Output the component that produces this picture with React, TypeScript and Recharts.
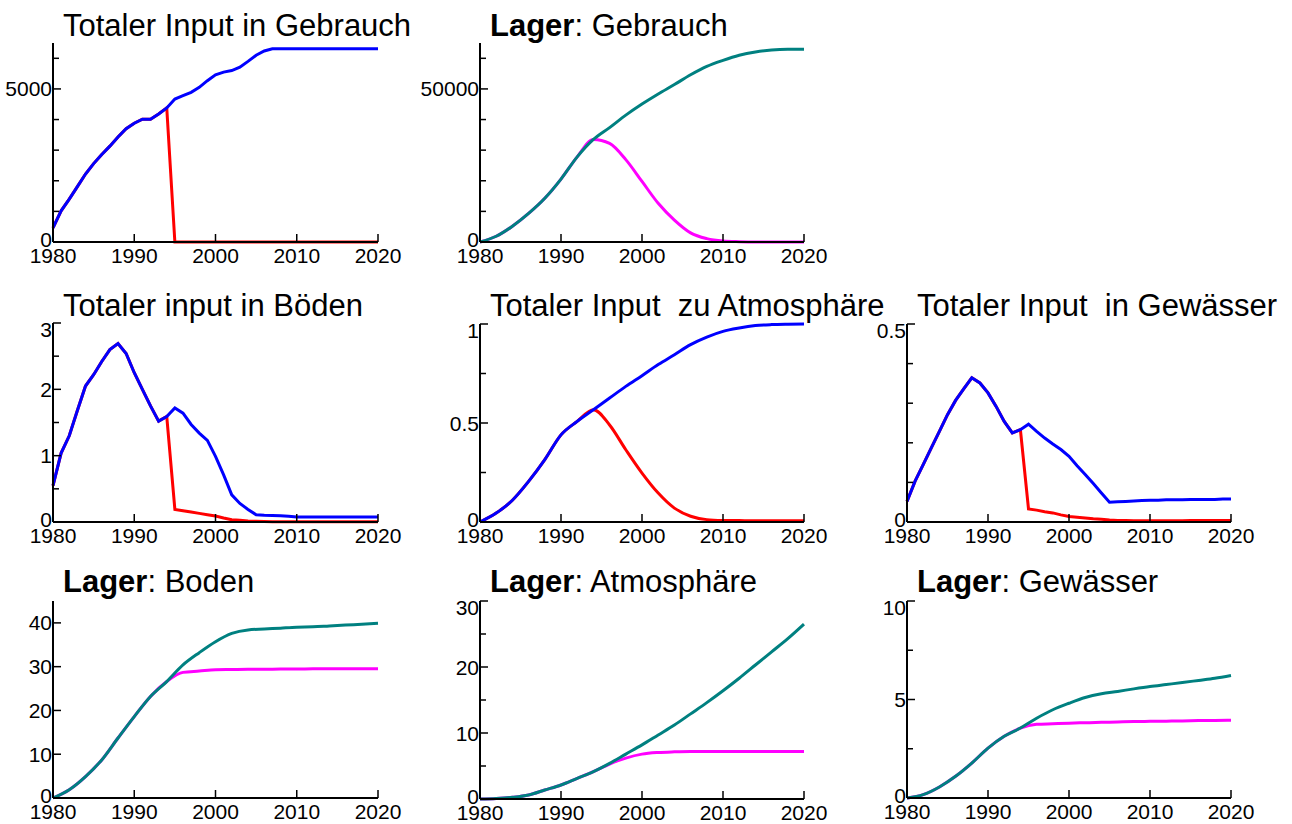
import React from 'react';
import { LineChart, Line, XAxis, YAxis } from 'recharts';

const FONT = '"Liberation Sans", Arial, Helvetica, sans-serif';
const BLUE = '#0000ff';
const RED = '#ff0000';
const TEAL = '#008080';
const MAGENTA = '#ff00ff';

const yearsAnnual = [
  1980, 1981, 1982, 1983, 1984, 1985, 1986, 1987, 1988, 1989,
  1990, 1991, 1992, 1993, 1994, 1995, 1996, 1997, 1998, 1999,
  2000, 2001, 2002, 2003, 2004, 2005, 2006, 2007, 2008, 2009,
  2010, 2011, 2012, 2013, 2014, 2015, 2016, 2017, 2018, 2019, 2020,
];
const yearsBiennial = [
  1980, 1982, 1984, 1986, 1988, 1990, 1992, 1994, 1996, 1998,
  2000, 2002, 2004, 2006, 2008, 2010, 2012, 2014, 2016, 2018, 2020,
];
const yearTicks = [1980, 1990, 2000, 2010, 2020];

// Totaler Input in Gebrauch (annual)
const gebrauchInputBlue = [
  460, 1020, 1400, 1810, 2220, 2560, 2860, 3130, 3430, 3700,
  3880, 4010, 4010, 4180, 4380, 4670, 4780, 4890, 5050, 5270,
  5460, 5550, 5600, 5710, 5900, 6100, 6240, 6310, 6310, 6310,
  6310, 6310, 6310, 6310, 6310, 6310, 6310, 6310, 6310, 6310, 6310,
];
const gebrauchInputRed = [
  460, 1020, 1400, 1810, 2220, 2560, 2860, 3130, 3430, 3700,
  3880, 4010, 4010, 4180, 4380, 0, 0, 0, 0, 0,
  0, 0, 0, 0, 0, 0, 0, 0, 0, 0,
  0, 0, 0, 0, 0, 0, 0, 0, 0, 0, 0,
];

// Lager: Gebrauch (biennial)
const gebrauchLagerTeal = [
  0, 1870, 5160, 9340, 14290, 20550, 27800, 33500, 37360, 41430,
  45050, 48350, 51430, 54620, 57360, 59340, 61000, 62090, 62750, 62970, 62970,
];
const gebrauchLagerMagenta = [
  0, 1870, 5160, 9340, 14290, 20550, 27800, 33500, 32200, 26900,
  19780, 12640, 7140, 2970, 1100, 330, 100, 0, 0, 0, 0,
];

// Totaler input in Böden (annual)
const bodenInputBlue = [
  0.55, 1.04, 1.3, 1.68, 2.05, 2.22, 2.42, 2.6, 2.69, 2.54,
  2.25, 2.0, 1.75, 1.52, 1.59, 1.72, 1.64, 1.47, 1.34, 1.23,
  0.99, 0.71, 0.41, 0.28, 0.19, 0.11, 0.1, 0.097, 0.094, 0.085,
  0.075, 0.075, 0.075, 0.075, 0.075, 0.075, 0.075, 0.075, 0.075, 0.075, 0.075,
];
const bodenInputRed = [
  0.55, 1.04, 1.3, 1.68, 2.05, 2.22, 2.42, 2.6, 2.69, 2.54,
  2.25, 2.0, 1.75, 1.52, 1.59, 0.19, 0.17, 0.15, 0.13, 0.11,
  0.09, 0.06, 0.035, 0.025, 0.015, 0.01, 0.006, 0.004, 0.003, 0.003,
  0.003, 0.003, 0.003, 0.003, 0.003, 0.003, 0.003, 0.003, 0.003, 0.003, 0.003,
];

// Totaler Input zu Atmosphäre (biennial)
const atmoInputBlue = [
  0, 0.045, 0.11, 0.205, 0.315, 0.44, 0.508, 0.567, 0.626, 0.685,
  0.739, 0.795, 0.845, 0.896, 0.934, 0.963, 0.98, 0.992, 0.997, 0.999, 1.0,
];
const atmoInputRed = [
  0, 0.045, 0.11, 0.205, 0.315, 0.44, 0.508, 0.567, 0.49, 0.365,
  0.247, 0.146, 0.07, 0.029, 0.012, 0.008, 0.007, 0.006, 0.006, 0.006, 0.006,
];

// Totaler Input in Gewässer (annual)
const wasserInputBlue = [
  0.052, 0.103, 0.145, 0.187, 0.229, 0.271, 0.307, 0.336, 0.364, 0.351,
  0.326, 0.292, 0.254, 0.225, 0.233, 0.247, 0.229, 0.212, 0.197, 0.183,
  0.166, 0.142, 0.12, 0.097, 0.073, 0.05, 0.051, 0.052, 0.053, 0.054,
  0.055, 0.055, 0.056, 0.056, 0.056, 0.057, 0.057, 0.057, 0.057, 0.058, 0.058,
];
const wasserInputRed = [
  0.052, 0.103, 0.145, 0.187, 0.229, 0.271, 0.307, 0.336, 0.364, 0.351,
  0.326, 0.292, 0.254, 0.225, 0.233, 0.033, 0.03, 0.026, 0.023, 0.018,
  0.014, 0.012, 0.01, 0.008, 0.007, 0.005, 0.004, 0.004, 0.003, 0.003,
  0.003, 0.003, 0.003, 0.003, 0.003, 0.004, 0.004, 0.004, 0.004, 0.004, 0.004,
];

// Lager: Boden (biennial)
const bodenLagerTeal = [
  0, 1.9, 4.9, 8.7, 13.7, 18.6, 23.2, 26.6, 30.4, 33.2,
  35.7, 37.6, 38.4, 38.6, 38.8, 39.0, 39.1, 39.3, 39.5, 39.7, 39.9,
];
const bodenLagerMagenta = [
  0, 1.9, 4.9, 8.7, 13.7, 18.6, 23.2, 26.6, 28.7, 29.0,
  29.3, 29.35, 29.4, 29.4, 29.45, 29.45, 29.5, 29.5, 29.5, 29.5, 29.5,
];

// Lager: Atmosphäre (biennial)
const atmoLagerTeal = [
  0, 0.08, 0.25, 0.6, 1.36, 2.12, 3.13, 4.14, 5.4, 6.8,
  8.2, 9.7, 11.2, 12.9, 14.6, 16.4, 18.3, 20.3, 22.3, 24.3, 26.5,
];
const atmoLagerMagenta = [
  0, 0.08, 0.25, 0.6, 1.36, 2.12, 3.13, 4.14, 5.3, 6.2,
  6.8, 7.05, 7.15, 7.2, 7.2, 7.2, 7.2, 7.2, 7.2, 7.2, 7.2,
];

// Lager: Gewässer (biennial)
const wasserLagerTeal = [
  0, 0.17, 0.56, 1.1, 1.77, 2.53, 3.13, 3.55, 4.05, 4.48,
  4.81, 5.1, 5.29, 5.41, 5.54, 5.66, 5.76, 5.86, 5.97, 6.08, 6.22,
];
const wasserLagerMagenta = [
  0, 0.17, 0.56, 1.1, 1.77, 2.53, 3.13, 3.55, 3.74, 3.77,
  3.8, 3.82, 3.84, 3.86, 3.88, 3.89, 3.9, 3.91, 3.93, 3.94, 3.95,
];

const toRows = (years: number[], base: number[], alt: number[]) =>
  years.map((year, i) => ({ year, base: base[i], alt: alt[i] }));

function YTick(props: any) {
  const { x, y, payload, labels, max } = props;
  const v = payload.value;
  const isLabel = labels.includes(v);
  let ly = y;
  if (v === max) ly += 6;
  else if (v === 0) ly -= 3;
  return (
    <g>
      <line x1={x} x2={x + (isLabel ? 8 : 6)} y1={y} y2={y} stroke="#000" strokeWidth={1.5} />
      {isLabel && (
        <text x={x - 1} y={ly} dy="0.36em" textAnchor="end" fontSize={21} fontFamily={FONT} fill="#000">
          {String(v)}
        </text>
      )}
    </g>
  );
}

function XTick(props: any) {
  const { x, y, payload } = props;
  return (
    <g>
      <line x1={x} x2={x} y1={y} y2={y - 8} stroke="#000" strokeWidth={1.5} />
      <text x={x} y={y + 21} textAnchor="middle" fontSize={21} fontFamily={FONT} fill="#000">
        {payload.value}
      </text>
    </g>
  );
}

const panels = [
  {
    title: <>Totaler Input in Gebrauch</>, left: 53, top: 43, w: 325, h: 199, baseline: 36,
    rows: toRows(yearsAnnual, gebrauchInputBlue, gebrauchInputRed), max: 6500,
    ticks: [0, 1000, 2000, 3000, 4000, 5000, 6000], labels: [0, 5000],
    baseColor: BLUE, altColor: RED, curve: 'linear',
  },
  {
    title: <><b>Lager</b>: Gebrauch</>, left: 480, top: 43, w: 324, h: 199, baseline: 36,
    rows: toRows(yearsBiennial, gebrauchLagerTeal, gebrauchLagerMagenta), max: 65000,
    ticks: [0, 10000, 20000, 30000, 40000, 50000, 60000], labels: [0, 50000],
    baseColor: TEAL, altColor: MAGENTA, curve: 'monotone',
  },
  {
    title: <>Totaler input in Böden</>, left: 53, top: 323, w: 325, h: 199, baseline: 316,
    rows: toRows(yearsAnnual, bodenInputBlue, bodenInputRed), max: 3,
    ticks: [0, 0.5, 1, 1.5, 2, 2.5, 3], labels: [0, 1, 2, 3],
    baseColor: BLUE, altColor: RED, curve: 'linear',
  },
  {
    title: <>Totaler Input  zu Atmosphäre</>, left: 480, top: 324, w: 324, h: 198, baseline: 316,
    rows: toRows(yearsBiennial, atmoInputBlue, atmoInputRed), max: 1,
    ticks: [0, 0.25, 0.5, 0.75, 1], labels: [0, 0.5, 1],
    baseColor: BLUE, altColor: RED, curve: 'monotone',
  },
  {
    title: <>Totaler Input  in Gewässer</>, left: 907, top: 324, w: 324, h: 198, baseline: 316,
    rows: toRows(yearsAnnual, wasserInputBlue, wasserInputRed), max: 0.5,
    ticks: [0, 0.1, 0.2, 0.3, 0.4, 0.5], labels: [0, 0.5],
    baseColor: BLUE, altColor: RED, curve: 'linear',
  },
  {
    title: <><b>Lager</b>: Boden</>, left: 53, top: 601, w: 325, h: 197, baseline: 592,
    rows: toRows(yearsBiennial, bodenLagerTeal, bodenLagerMagenta), max: 45,
    ticks: [0, 10, 20, 30, 40], labels: [0, 10, 20, 30, 40],
    baseColor: TEAL, altColor: MAGENTA, curve: 'monotone',
  },
  {
    title: <><b>Lager</b>: Atmosphäre</>, left: 480, top: 601, w: 324, h: 198, baseline: 592,
    rows: toRows(yearsBiennial, atmoLagerTeal, atmoLagerMagenta), max: 30,
    ticks: [0, 5, 10, 15, 20, 25, 30], labels: [0, 10, 20, 30],
    baseColor: TEAL, altColor: MAGENTA, curve: 'monotone',
  },
  {
    title: <><b>Lager</b>: Gewässer</>, left: 907, top: 601, w: 324, h: 197, baseline: 592,
    rows: toRows(yearsBiennial, wasserLagerTeal, wasserLagerMagenta), max: 10,
    ticks: [0, 2.5, 5, 7.5, 10], labels: [0, 5, 10],
    baseColor: TEAL, altColor: MAGENTA, curve: 'monotone',
  },
];

export default function App() {
  return (
    <div style={{ position: 'absolute', left: 0, top: 0, width: 1292, height: 824, background: '#fff', fontFamily: FONT }}>
      {panels.map((p, i) => (
        <React.Fragment key={i}>
          <div style={{ position: 'absolute', left: p.left - 60, top: p.top - 10 }}>
            <LineChart
              width={p.w + 100}
              height={p.h + 40}
              data={p.rows}
              margin={{ top: 10, right: 40, bottom: 0, left: 0 }}
            >
              <XAxis
                dataKey="year" type="number" domain={[1980, 2020]} ticks={yearTicks}
                interval={0} height={30} tickSize={0} tickMargin={0} tickLine={false}
                axisLine={{ stroke: '#000', strokeWidth: 2 }}
                tick={(props: any) => <XTick {...props} />}
              />
              <YAxis
                type="number" domain={[0, p.max]} ticks={p.ticks} interval={0} width={60}
                tickSize={0} tickMargin={0} tickLine={false}
                axisLine={{ stroke: '#000', strokeWidth: 2 }}
                tick={(props: any) => <YTick {...props} labels={p.labels} max={p.max} />}
              />
              <Line type={p.curve as any} dataKey="alt" stroke={p.altColor} strokeWidth={3} dot={false} isAnimationActive={false} />
              <Line type={p.curve as any} dataKey="base" stroke={p.baseColor} strokeWidth={3} dot={false} isAnimationActive={false} />
            </LineChart>
          </div>
          <div
            style={{
              position: 'absolute', left: p.left + 10, top: p.baseline - 26,
              fontSize: 31, lineHeight: '31px', whiteSpace: 'pre', color: '#000',
            }}
          >
            {p.title}
          </div>
        </React.Fragment>
      ))}
    </div>
  );
}
